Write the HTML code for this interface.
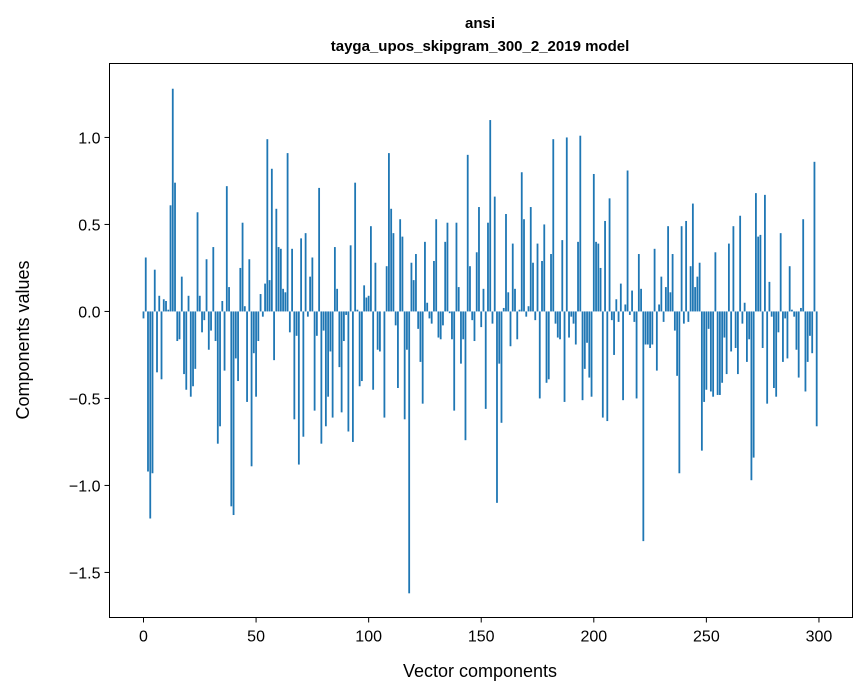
<!DOCTYPE html>
<html><head><meta charset="utf-8"><style>
html,body{margin:0;padding:0;background:#fff;}
svg{display:block;font-family:"Liberation Sans",sans-serif;}
</style></head><body>
<svg id="chart" width="867" height="696" viewBox="0 0 867 696">
<text x="480" y="28" text-anchor="middle" font-size="15" font-weight="bold">ansi</text>
<text x="480" y="51" text-anchor="middle" font-size="15" font-weight="bold">tayga_upos_skipgram_300_2_2019 model</text>
<g id="bars"></g>
<g id="axes"></g>
<rect x="109.5" y="63.5" width="743" height="554" fill="none" stroke="#000" stroke-width="1"/>
<text x="480" y="677" text-anchor="middle" font-size="18">Vector components</text>
<text transform="translate(29,340) rotate(-90)" text-anchor="middle" font-size="18">Components values</text>
</svg>
<script>
const values = [
-0.04,0.31,-0.92,-1.19,-0.93,0.24,-0.35,0.09,-0.39,0.07,
0.06,0.01,0.61,1.28,0.74,-0.17,-0.16,0.20,-0.36,-0.45,
0.09,-0.49,-0.43,-0.33,0.57,0.09,-0.12,-0.05,0.30,-0.22,
-0.11,0.37,-0.17,-0.76,-0.66,0.06,-0.34,0.72,0.14,-1.12,
-1.17,-0.27,-0.40,0.25,0.51,0.03,-0.52,0.30,-0.89,-0.24,
-0.49,-0.17,0.10,-0.03,0.16,0.99,0.18,0.82,-0.28,0.59,
0.37,0.36,0.13,0.11,0.91,-0.12,0.36,-0.62,-0.14,-0.88,
0.42,-0.72,0.45,-0.03,0.20,0.31,-0.57,-0.14,0.71,-0.76,
-0.11,-0.66,-0.49,-0.23,-0.61,0.37,0.13,-0.32,-0.58,-0.17,
-0.02,-0.69,0.38,-0.75,0.74,0.01,-0.43,-0.40,0.15,0.08,
0.09,0.49,-0.45,0.28,-0.22,-0.23,0.00,-0.61,0.26,0.91,
0.59,0.45,-0.08,-0.44,0.53,0.43,-0.62,-0.22,-1.62,0.28,
0.18,0.33,-0.10,-0.29,-0.53,0.40,0.05,-0.04,-0.07,0.29,
0.53,-0.15,-0.16,-0.08,0.40,0.51,-0.01,-0.16,-0.57,0.51,
0.14,-0.30,-0.16,-0.74,0.90,0.26,-0.05,-0.17,0.34,0.60,
-0.09,0.13,-0.56,0.51,1.10,-0.07,0.66,-1.10,-0.30,-0.64,
0.02,0.56,0.11,-0.20,0.39,0.13,-0.16,0.01,0.80,0.53,
-0.03,0.03,0.60,0.28,-0.05,0.39,-0.50,0.29,0.50,-0.41,
-0.39,0.33,0.99,-0.07,-0.15,-0.16,0.41,-0.52,1.00,-0.15,
-0.03,-0.07,-0.19,0.40,1.01,-0.51,-0.33,-0.18,-0.38,-0.49,
0.79,0.40,0.39,0.25,-0.61,0.52,-0.63,0.65,-0.05,-0.25,
0.07,-0.06,0.16,-0.51,0.04,0.81,-0.02,0.12,-0.06,-0.50,
0.33,0.13,-1.32,-0.19,-0.19,-0.21,-0.19,0.36,-0.34,0.04,
0.20,-0.06,0.14,0.49,0.11,0.33,-0.11,-0.37,-0.93,0.49,
-0.07,0.52,-0.06,0.26,0.62,0.14,0.20,0.28,-0.80,-0.52,
-0.45,-0.10,-0.46,-0.49,0.34,-0.48,-0.48,-0.41,-0.15,-0.36,
0.39,-0.23,0.49,-0.21,-0.36,0.55,-0.07,0.05,-0.29,-0.16,
-0.97,-0.84,0.68,0.43,0.44,-0.21,0.67,-0.53,0.17,-0.03,
-0.44,-0.49,-0.12,0.45,-0.29,-0.04,-0.27,0.26,0.01,-0.03,
-0.22,-0.38,0.02,0.53,-0.46,-0.29,-0.14,-0.24,0.86,-0.66
];
const xTicks = [0,50,100,150,200,250,300];
const yTicks = [-1.5,-1.0,-0.5,0.0,0.5,1.0];
const yTickLabels = ["\u22121.5","\u22121.0","\u22120.5","0.0","0.5","1.0"];

const X0=109.5, X1=852.5, Y0=63.5, Y1=617.5;
const xMin=-15.1, xMax=314.9, yMin=-1.759, yMax=1.425;
const sx = v => X0 + (v - xMin) / (xMax - xMin) * (X1 - X0);
const sy = v => Y1 - (v - yMin) / (yMax - yMin) * (Y1 - Y0);
const NS="http://www.w3.org/2000/svg";
const bars=document.getElementById('bars');
values.forEach((v,i)=>{
  const r=document.createElementNS(NS,'rect');
  const w=sx(0.4)-sx(-0.4);
  r.setAttribute('x',sx(i)-w/2);
  r.setAttribute('width',w);
  r.setAttribute('y',Math.min(sy(v),sy(0)));
  r.setAttribute('height',Math.abs(sy(v)-sy(0)));
  r.setAttribute('fill','#1f77b4');
  
  
  bars.appendChild(r);
});
const axes=document.getElementById('axes');
xTicks.forEach(t=>{
  const l=document.createElementNS(NS,'line');
  l.setAttribute('x1',sx(t));l.setAttribute('x2',sx(t));
  l.setAttribute('y1',Y1);l.setAttribute('y2',Y1+5);
  l.setAttribute('stroke','#000');
  
  
  axes.appendChild(l);
  const tx=document.createElementNS(NS,'text');
  tx.setAttribute('x',sx(t));tx.setAttribute('y',Y1+24);
  tx.setAttribute('text-anchor','middle');tx.setAttribute('font-size','16');
  tx.textContent=t;
  
  
  axes.appendChild(tx);
});
yTicks.forEach((t,i)=>{
  const l=document.createElementNS(NS,'line');
  l.setAttribute('x1',X0-5);l.setAttribute('x2',X0);
  l.setAttribute('y1',sy(t));l.setAttribute('y2',sy(t));
  l.setAttribute('stroke','#000');
  
  
  axes.appendChild(l);
  const tx=document.createElementNS(NS,'text');
  tx.setAttribute('x',X0-9);tx.setAttribute('y',sy(t)+6);
  tx.setAttribute('text-anchor','end');tx.setAttribute('font-size','16');
  tx.textContent=yTickLabels[i];
  
  
  axes.appendChild(tx);
});
</script>
</body></html>
